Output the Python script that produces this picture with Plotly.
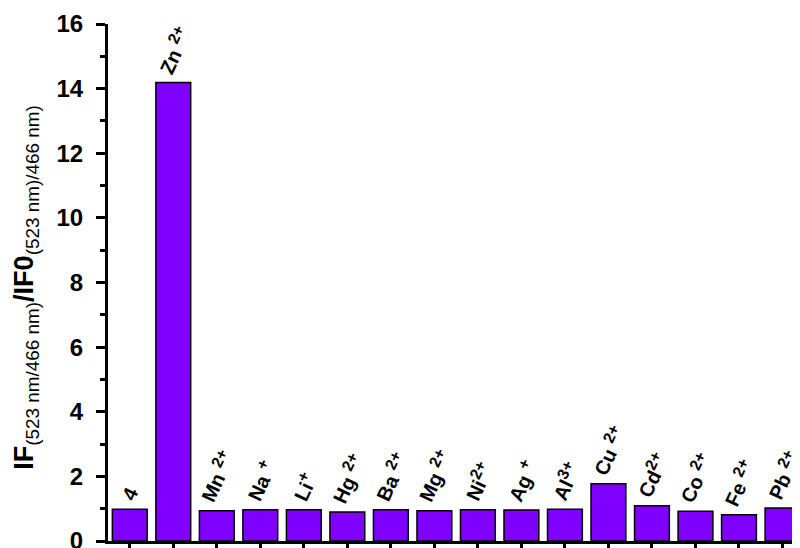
import plotly.graph_objects as go

categories = ["4", "Zn2+", "Mn2+", "Na+", "Li+", "Hg2+", "Ba2+", "Mg2+", "Ni2+",
              "Ag+", "Al3+", "Cu2+", "Cd2+", "Co2+", "Fe2+", "Pb2+"]
label_base = ["4", "Zn ", "Mn ", "Na ", "Li", "Hg ", "Ba ", "Mg ", "Ni",
              "Ag ", "Al", "Cu ", "Cd", "Co ", "Fe ", "Pb "]
label_charge = ["", "2+", "2+", "+", "+", "2+", "2+", "2+", "2+",
                "+", "3+", "2+", "2+", "2+", "2+", "2+"]
values = [0.98, 14.19, 0.94, 0.97, 0.97, 0.90, 0.97, 0.94, 0.97,
          0.96, 0.98, 1.77, 1.09, 0.92, 0.81, 1.02]
positions = list(range(1, len(categories) + 1))

FONT = "Arial, Liberation Sans, sans-serif"
LABEL_SIZE = 20

fig = go.Figure()
fig.add_trace(go.Bar(
    x=positions, y=values, width=0.8,
    marker=dict(color="#7F00FF", line=dict(color="black", width=1.5)),
    hovertext=categories, hoverinfo="text+y",
))

for p, v, b, c in zip(positions, values, label_base, label_charge):
    txt = b + (f"<sup><span style='font-size:{int(LABEL_SIZE*0.8)}px'>{c}</span></sup>" if c else "")
    fig.add_annotation(
        x=p, y=v, xref="x", yref="y", text=txt, showarrow=False,
        textangle=-65, xanchor="center", yanchor="bottom", yshift=3,
        font=dict(family=FONT, size=LABEL_SIZE, color="black", weight="bold"),
    )

fig.add_annotation(
    xref="paper", yref="paper", x=(18 - 100) / 698, y=(533.5 - 280) / 517.5,
    xanchor="center", yanchor="middle", textangle=-90, showarrow=False,
    text="IF<sub><span style='font-weight:normal'>(523 nm/466 nm)</span></sub>/IF0<sub><span style='font-weight:normal'>(523 nm)/466 nm)</span></sub>",
    font=dict(family=FONT, size=27, color="black", weight="bold"),
)

fig.update_layout(
    width=800, height=548,
    margin=dict(l=100, r=2, t=16, b=15),
    plot_bgcolor="white", paper_bgcolor="white",
    showlegend=False,
    font=dict(family=FONT, color="black"),
    xaxis=dict(
        range=[0.5, 16.54], showgrid=False, zeroline=False,
        showline=True, linecolor="black", linewidth=3,
        ticks="outside", tick0=0, dtick=2, ticklen=9, tickwidth=2.5, tickcolor="black",
        showticklabels=False,
        minor=dict(tick0=0, dtick=1, ticks="outside", ticklen=5, tickwidth=2.5, tickcolor="black"),
    ),
    yaxis=dict(
        range=[0, 16], showgrid=False, zeroline=False,
        showline=True, linecolor="black", linewidth=3,
        ticks="outside", tick0=0, dtick=2, ticklen=9, tickwidth=2.5, tickcolor="black",
        ticklabelstandoff=8,
        tickfont=dict(family=FONT, size=24, color="black", weight="bold"),
        minor=dict(tick0=0, dtick=1, ticks="outside", ticklen=5, tickwidth=2.5, tickcolor="black"),
    ),
)

fig.write_html("out.html")
